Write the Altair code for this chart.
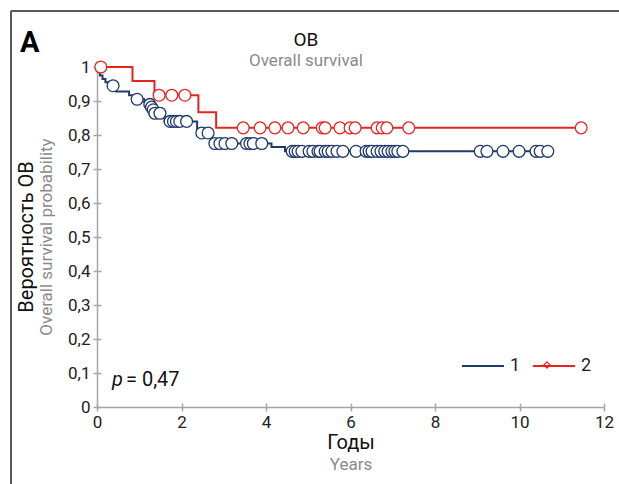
import altair as alt
import numpy as np
import pandas as pd

BLUE = "#1f3a6b"
RED = "#e8231f"
GRAY_AXIS = "#a6a6a6"
FONT = "Roboto"

# Group 1 (blue) Kaplan-Meier steps
blue_step_t = [0.0, 0.03, 0.07, 0.13, 0.20, 0.27, 0.45, 0.76, 0.88, 1.12, 1.23, 1.27, 1.31, 1.35, 1.60, 2.37, 2.71, 4.13, 4.45]
blue_step_s = [1.0, 0.985, 0.975, 0.965, 0.955, 0.945, 0.928, 0.917, 0.905, 0.897, 0.890, 0.882, 0.874, 0.864, 0.840, 0.806, 0.775, 0.765, 0.752]
blue_censor_t = [0.38, 0.95, 1.25, 1.29, 1.33, 1.37, 1.49, 1.73, 1.81, 1.88, 1.96, 2.12, 2.48, 2.63,
                 2.79, 2.91, 3.03, 3.19, 3.54, 3.62, 3.70, 3.90,
                 4.62, 4.69, 4.76, 4.85, 5.02, 5.11, 5.23, 5.28, 5.40, 5.47, 5.56, 5.68, 5.82,
                 6.13, 6.37, 6.44, 6.51, 6.63, 6.72, 6.81, 6.89, 6.98, 7.05, 7.12, 7.24,
                 9.07, 9.23, 9.61, 9.99, 10.39, 10.49, 10.67]

# Group 2 (red) Kaplan-Meier steps
red_step_t = [0.0, 0.84, 1.36, 2.40, 2.82]
red_step_s = [1.0, 0.959, 0.917, 0.867, 0.821]
red_censor_t = [0.09, 1.47, 1.77, 2.08, 3.46, 3.86, 4.21, 4.52, 4.88, 5.33, 5.40, 5.75, 5.99, 6.11,
                6.63, 6.75, 6.86, 7.38, 11.46]

x_ticks = [0, 2, 4, 6, 8, 10, 12]
y_ticks = [0, 0.1, 0.2, 0.3, 0.4, 0.5, 0.6, 0.7, 0.8, 0.9, 1.0]
groups = ["1", "2"]


def step_rows(g, st, ss, end):
    rows = [{"group": g, "t": t, "S": s} for t, s in zip(st, ss)]
    rows.append({"group": g, "t": end, "S": ss[-1]})
    return rows


def censor_rows(g, st, ss, ct):
    st_a = np.array(st)
    rows = []
    for t in ct:
        i = int(np.searchsorted(st_a, t, side="right")) - 1
        rows.append({"group": g, "t": t, "S": ss[i]})
    return rows


steps = pd.DataFrame(step_rows("1", blue_step_t, blue_step_s, max(blue_censor_t))
                     + step_rows("2", red_step_t, red_step_s, max(red_censor_t)))
cens = pd.DataFrame(censor_rows("1", blue_step_t, blue_step_s, blue_censor_t)
                    + censor_rows("2", red_step_t, red_step_s, red_censor_t))

W, H = 507, 340
color_scale = alt.Scale(domain=groups, range=[BLUE, RED])
xscale = alt.Scale(domain=[0, 12], nice=False)
yscale = alt.Scale(domain=[0, 1], nice=False)
ylab = "replace(format(datum.value, '.1~f'), '.', ',')"

lines = alt.Chart(steps).mark_line(interpolate="step-after", strokeWidth=2).encode(
    x=alt.X("t:Q", scale=xscale, axis=alt.Axis(values=x_ticks, title=None, orient="bottom", labelFlush=False)),
    y=alt.Y("S:Q", scale=yscale, axis=alt.Axis(values=y_ticks, title=None, orient="left", labelExpr=ylab)),
    color=alt.Color("group:N", scale=color_scale,
                    legend=alt.Legend(orient="none", legendX=364, legendY=277, direction="horizontal",
                                      title=None, symbolType="stroke", symbolSize=1764,
                                      symbolStrokeWidth=2, labelFontSize=18, labelFont=FONT,
                                      labelColor="#222", labelOffset=5, columnPadding=8)),
)

points = alt.Chart(cens).mark_circle(fill="white", size=140, strokeWidth=1.3, opacity=1).encode(
    x=alt.X("t:Q", scale=xscale, axis=alt.Axis(values=x_ticks, title=None, orient="top", offset=-H,
                                                 labels=False, domain=False, tickSize=4)),
    y=alt.Y("S:Q", scale=yscale, axis=alt.Axis(values=y_ticks, title=None, orient="right", offset=-W,
                                                 labels=False, domain=False, tickSize=4)),
    stroke=alt.Stroke("group:N", scale=color_scale, legend=None),
)

base = alt.Chart(pd.DataFrame({"a": [0]}))


def txt(text, x, y, size, color="#111", **kw):
    return base.mark_text(text=text, fontSize=size, font=FONT, color=color, **kw).encode(
        x=alt.value(x), y=alt.value(y))


legend_marker = base.mark_point(shape="diamond", size=40, fill="white", filled=True,
                                stroke=RED, strokeWidth=1.2, opacity=1).encode(
    x=alt.value(450), y=alt.value(298))

frame_top = base.mark_rule(color="#5a5a5a", strokeWidth=2).encode(
    x=alt.value(-86), x2=alt.value(530), y=alt.value(-56))
frame_left = base.mark_rule(color="#5a5a5a", strokeWidth=2).encode(
    x=alt.value(-86), y=alt.value(-56), y2=alt.value(430))

texts = [
    txt("A", -77, -15, 29, "#000", fontWeight="bold", align="left", baseline="alphabetic"),
    txt("ОВ", 209, -21, 19, "#111", align="center", baseline="alphabetic"),
    txt("Overall survival", 209, -1, 17, "#8a8a8a", align="center", baseline="alphabetic"),
    txt("Вероятность ОВ", -70, 170, 20, "#111", angle=270, align="center", baseline="middle"),
    txt("Overall survival probability", -50, 170, 17, "#8a8a8a", angle=270, align="center", baseline="middle"),
    txt("Годы", 254, 382, 20, "#111", align="center", baseline="alphabetic"),
    txt("Years", 254, 403, 17, "#8a8a8a", align="center", baseline="alphabetic"),
    txt("p", 15, 319, 20, "#111", fontStyle="italic", align="left", baseline="alphabetic"),
    txt("= 0,47", 29, 319, 20, "#111", align="left", baseline="alphabetic"),
]

chart = alt.layer(lines, points, legend_marker, frame_top, frame_left, *texts).resolve_axis(
    x="independent", y="independent"
).properties(
    width=W, height=H,
    autosize=alt.AutoSizeParams(type="none"),
    padding={"left": 97, "top": 67, "right": 15, "bottom": 77},
).configure_view(stroke=None).configure_axis(
    labelFont=FONT, labelFontSize=17, labelColor="#222", domainColor=GRAY_AXIS, tickColor=GRAY_AXIS,
    domainWidth=1.5, tickWidth=1.5, tickSize=4, grid=False, labelPadding=3,
)

chart.save("out.html", embed_options={"renderer": "svg", "actions": False})
